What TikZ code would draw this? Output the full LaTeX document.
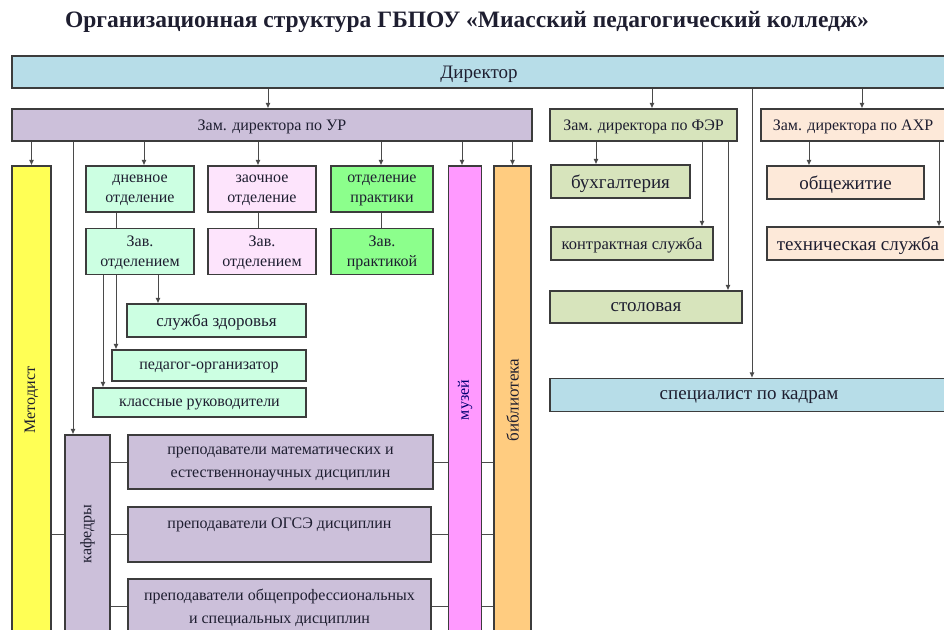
\documentclass[tikz,border=0pt]{standalone}
\usepackage{fontspec}
\setmainfont{Liberation Serif}
\usetikzlibrary{arrows.meta,positioning}
\definecolor{c_line}{HTML}{3C3C3C}
\definecolor{c_link}{HTML}{4A4A4A}
\definecolor{c_text}{HTML}{1E1E30}
\definecolor{c_dir}{HTML}{B7DDE8}
\definecolor{c_ur}{HTML}{CCC0DA}
\definecolor{c_fer}{HTML}{D7E4BC}
\definecolor{c_ahr}{HTML}{FDE9D9}
\definecolor{c_met}{HTML}{FFFF55}
\definecolor{c_dnev}{HTML}{CCFFE2}
\definecolor{c_zaoch}{HTML}{FDE4FC}
\definecolor{c_prakt}{HTML}{8CFF8C}
\definecolor{c_muz}{HTML}{FF99FF}
\definecolor{c_bib}{HTML}{FFCC80}

\begin{document}
\begin{tikzpicture}[x=1pt,y=-1pt,>={Latex[length=5.5pt,width=5pt]},
		box/.style={draw=c_line,line width=1.1pt,inner sep=1pt,align=center,text=c_text,text depth=-1.5pt,font=\fontsize{16}{20}\selectfont},
		big/.style={box,font=\fontsize{19}{22}\selectfont},
		wide/.style={box,font=\fontsize{16}{23}\selectfont},
		tall/.style={box,minimum height=468},
		link/.style={c_link,line width=1pt}]
			\useasboundingbox (0,0) rectangle (944,629);
			\clip (0,0) rectangle (944,629);
			\node[font=\bfseries\fontsize{23.5}{28}\selectfont,text=c_text] (title) at (467,22) {Организационная структура ГБПОУ «Миасский педагогический колледж»};
			% top level
			\node[big,fill=c_dir,minimum width=934,minimum height=32] (dir) at (479,72) {Директор};
			\node[box,fill=c_ur,minimum width=520,minimum height=32] (zam_ur) at (272,125) {Зам. директора по УР};
			\node[box,fill=c_fer,minimum width=187,minimum height=32] (zam_fer) at (643.5,125) {Зам. директора по ФЭР};
			\node[box,fill=c_ahr,minimum width=184,minimum height=32] (zam_ahr) at (853,125) {Зам. директора по АХР};
			% UR branch
			\node[tall,fill=c_met,minimum width=39] (metod) at (31.5,400) {\rotatebox{90}{Методист}};
			\node[tall,fill=c_muz,minimum width=33] (muz) at (465,400) {\rotatebox{90}{\color{blue!45!black}музей}};
			\node[tall,fill=c_bib,minimum width=37,font=\fontsize{17}{20}\selectfont] (bibl) at (512.5,400) {\rotatebox{90}{библиотека}};
			\node[box,fill=c_ur,minimum width=45,minimum height=198] (kaf) at (87.5,534) {\rotatebox{90}{кафедры}};
			\node[box,fill=c_dnev,minimum width=108,minimum height=46] (dnev) at (140,189) {дневное\\отделение};
			\node[box,fill=c_zaoch,minimum width=108,minimum height=46] (zaoch) at (262,189) {заочное\\отделение};
			\node[box,fill=c_prakt,minimum width=102,minimum height=46] (prakt) at (382,189) {отделение\\практики};
			\node[box,fill=c_dnev,minimum width=108,minimum height=46] (zav_1) [below=15pt of dnev] {Зав.\\отделением};
			\node[box,fill=c_zaoch,minimum width=108,minimum height=46] (zav_2) [below=15pt of zaoch] {Зав.\\отделением};
			\node[box,fill=c_prakt,minimum width=102,minimum height=46] (zav_3) [below=15pt of prakt] {Зав.\\практикой};
			\node[box,fill=c_dnev,minimum width=179,minimum height=33,font=\fontsize{17}{20}\selectfont] (zdor) at (216.5,320.5) {служба здоровья};
			\node[box,fill=c_dnev,minimum width=194,minimum height=31] (ped) at (209,365.5) {педагог-организатор};
			\node[box,fill=c_dnev,minimum width=213,minimum height=29] (kl) at (199.5,402.5) {классные руководители};
			\node[wide,fill=c_ur,minimum width=305,minimum height=54] (prep_1) at (280.5,462) {преподаватели математических и\\естественнонаучных дисциплин};
			\node[wide,fill=c_ur,minimum width=303,minimum height=55] (prep_2) at (279.5,534.5) {преподаватели ОГСЭ дисциплин\\\strut};
			\node[wide,fill=c_ur,minimum width=303,minimum height=54] (prep_3) at (279.5,606) {преподаватели общепрофессиональных\\и специальных дисциплин};
			% FER and AHR branches
			\node[big,fill=c_fer,minimum width=139,minimum height=33] (buh) at (620.5,181.5) {бухгалтерия};
			\node[box,fill=c_fer,minimum width=162,minimum height=33,font=\fontsize{16.5}{20}\selectfont] (kontr) at (632,243.5) {контрактная служба};
			\node[big,fill=c_fer,minimum width=192,minimum height=32] (stol) at (646,307) {столовая};
			\node[big,fill=c_dir,minimum width=398,minimum height=33] (kadr) at (749,395) {специалист по кадрам};
			\node[big,fill=c_ahr,minimum width=157,minimum height=33] (obsh) at (845.5,182.5) {общежитие};
			\node[big,fill=c_ahr,minimum width=182,minimum height=33] (tehn) at (858,243.5) {техническая служба};
			% connectors
			\path[->,link]
			(dir.south -| 268,0) edge (zam_ur.north -| 268,0)
			(dir.south -| 652,0) edge (zam_fer.north -| 652,0)
			(dir.south -| 862,0) edge (zam_ahr.north -| 862,0)
			(dir.south -| 752,0) edge (kadr.north -| 752,0)
			(zam_ur.south -| metod) edge (metod.north)
			(zam_ur.south -| 73,0) edge (kaf.north -| 73,0)
			(zam_ur.south -| 144,0) edge (dnev.north -| 144,0)
			(zam_ur.south -| 258,0) edge (zaoch.north -| 258,0)
			(zam_ur.south -| 381,0) edge (prakt.north -| 381,0)
			(zam_ur.south -| 462,0) edge (muz.north -| 462,0)
			(zam_ur.south -| bibl) edge (bibl.north)
			(zav_1.south -| 158,0) edge (zdor.north -| 158,0)
			(zav_1.south -| 116,0) edge (ped.north -| 116,0)
			(zav_1.south -| 103,0) edge (kl.north -| 103,0)
			(zam_fer.south -| 596,0) edge (buh.north -| 596,0)
			(zam_fer.south -| 702,0) edge (kontr.north -| 702,0)
			(zam_fer.south -| 728,0) edge (stol.north -| 728,0)
			(zam_ahr.south -| 809,0) edge (obsh.north -| 809,0)
			(zam_ahr.south -| 939,0) edge (tehn.north -| 939,0);
			\path[link]
			(dnev.south -| 116,0) edge (zav_1.north -| 116,0)
			(zaoch.south -| 258,0) edge (zav_2.north -| 258,0)
			(prakt.south -| 381,0) edge (zav_3.north -| 381,0)
			(metod.east |- prep_2) edge (kaf.west |- prep_2)
			(kaf.east |- prep_1) edge (prep_1.west)
			(kaf.east |- prep_2) edge (prep_2.west)
			(kaf.east |- prep_3) edge (prep_3.west)
			(prep_1.east) edge (muz.west |- prep_1)
			(prep_2.east) edge (muz.west |- prep_2)
			(prep_3.east) edge (muz.west |- prep_3)
			(muz.east |- prep_1) edge (bibl.west |- prep_1)
			(muz.east |- prep_2) edge (bibl.west |- prep_2)
			(muz.east |- prep_3) edge (bibl.west |- prep_3);
		\end{tikzpicture}
\end{document}
